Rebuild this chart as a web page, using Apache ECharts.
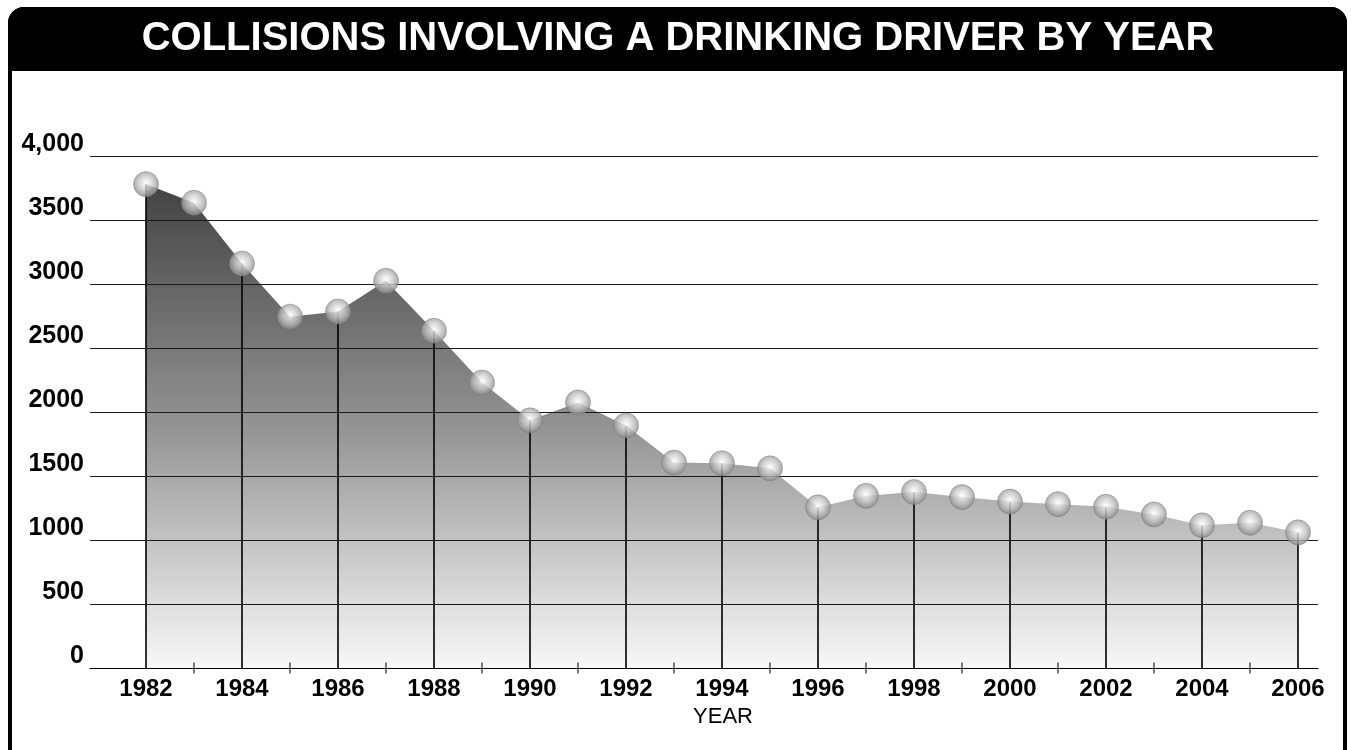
<!DOCTYPE html>
<html>
<head>
<meta charset="utf-8">
<script src="https://cdn.jsdelivr.net/npm/echarts@6/dist/echarts.min.js"></script>
<style>
  html, body { margin: 0; padding: 0; background: #fff; }
  #chart { width: 1351px; height: 750px; }
</style>
</head>
<body>
<div id="chart"></div>
<script>
// ---- data ----
var titleText = 'COLLISIONS INVOLVING A DRINKING DRIVER BY YEAR';
var xAxisName = 'YEAR';
var years = [1982,1983,1984,1985,1986,1987,1988,1989,1990,1991,1992,1993,1994,1995,1996,1997,1998,1999,2000,2001,2002,2003,2004,2005,2006];
var collisions = [3780,3635,3160,2745,2785,3025,2635,2230,1935,2075,1895,1605,1600,1560,1255,1345,1375,1335,1300,1280,1260,1200,1115,1135,1060];
var labelYears = [1982,1984,1986,1988,1990,1992,1994,1996,1998,2000,2002,2004,2006];
var tickYears = [1983,1985,1987,1989,1991,1993,1995,1997,1999,2001,2003,2005];
var yTicks = [0,500,1000,1500,2000,2500,3000,3500,4000];
var yTickLabels = ['0','500','1000','1500','2000','2500','3000','3500','4,000'];

// ---- derived ----
var points = years.map(function (y, i) { return [y, collisions[i]]; });
var dropLines = labelYears.map(function (y) { return [y, collisions[years.indexOf(y)]]; });
var tickMarks = tickYears.map(function (y) { return [y, 0]; });
var gridLines = yTicks.filter(function (v) { return v > 0; }).map(function (v) { return { yAxis: v }; });

var chart = echarts.init(document.getElementById('chart'), null, { renderer: 'canvas' });
var FONT = '"Liberation Sans", Arial, Helvetica, sans-serif';

chart.setOption({
  animation: false,
  backgroundColor: '#ffffff',
  graphic: [
    { type: 'rect', z: 100, silent: true,
      shape: { x: 10, y: 9, width: 1335, height: 760, r: 14 },
      style: { fill: 'none', stroke: '#000', lineWidth: 4 } },
    { type: 'rect', z: 99, silent: true,
      shape: { x: 8, y: 7, width: 1339, height: 64, r: [16, 16, 0, 0] },
      style: { fill: '#000' } },
    { type: 'text', z: 101, silent: true, x: 678, y: 39,
      style: { text: titleText, fill: '#fff', font: 'bold 40px ' + FONT,
               align: 'center', verticalAlign: 'middle' } }
  ],
  grid: { left: 90, right: 33, top: 156, bottom: 82, containLabel: false },
  xAxis: {
    type: 'value',
    min: 1982 - 56 / 48,
    max: 2006 + 20 / 48,
    name: xAxisName,
    nameLocation: 'middle',
    nameGap: 37,
    nameTextStyle: { fontFamily: FONT, fontSize: 22, color: '#000', padding: [0, 0, 0, 38] },
    axisLine: { show: true, onZero: false, lineStyle: { color: '#000', width: 1.2 } },
    axisTick: { show: false },
    splitLine: { show: false },
    axisLabel: {
      customValues: labelYears,
      formatter: function (v) { return String(v); },
      fontFamily: FONT, fontWeight: 'bold', fontSize: 24, color: '#000', margin: 9,
      showMinLabel: true, showMaxLabel: true, hideOverlap: false
    }
  },
  yAxis: {
    type: 'value',
    min: 0, max: 4000, interval: 500,
    axisLine: { show: false },
    axisTick: { show: false },
    splitLine: { show: false },
    axisLabel: {
      formatter: function (v) { var i = yTicks.indexOf(v); return i >= 0 ? yTickLabels[i] : ''; },
      fontFamily: FONT, fontWeight: 'bold', fontSize: 25, color: '#000',
      margin: 6, verticalAlign: 'bottom', lineHeight: 24
    }
  },
  series: [
    {
      type: 'line', z: 2, data: points, showSymbol: false, symbol: 'none',
      lineStyle: { width: 0 }, silent: true,
      areaStyle: {
        opacity: 1,
        color: { type: 'linear', x: 0, y: 0, x2: 0, y2: 1, colorStops: [
          { offset: 0, color: '#434343' },
          { offset: 0.5, color: '#939393' },
          { offset: 1, color: '#f8f8f8' }
        ] }
      }
    },
    {
      type: 'bar', z: 3, data: dropLines, barWidth: 1.6, silent: true,
      itemStyle: { color: '#000' },
      markLine: {
        silent: true, symbol: 'none', animation: false,
        label: { show: false },
        lineStyle: { color: '#1a1a1a', width: 1, type: 'solid' },
        data: gridLines
      }
    },
    {
      type: 'scatter', z: 4, data: tickMarks, symbol: 'rect', symbolSize: [1.3, 11], silent: true,
      itemStyle: { color: '#000' }
    },
    {
      type: 'scatter', z: 5, data: points, symbol: 'circle', symbolSize: 25, silent: true,
      itemStyle: {
        color: { type: 'radial', x: 0.5, y: 0.45, r: 0.55, colorStops: [
          { offset: 0, color: '#ffffff' },
          { offset: 0.55, color: '#c4c4c4' },
          { offset: 1, color: '#858585' }
        ] },
        borderColor: '#7a7a7a', borderWidth: 0.6
      }
    }
  ]
});
</script>
</body>
</html>
